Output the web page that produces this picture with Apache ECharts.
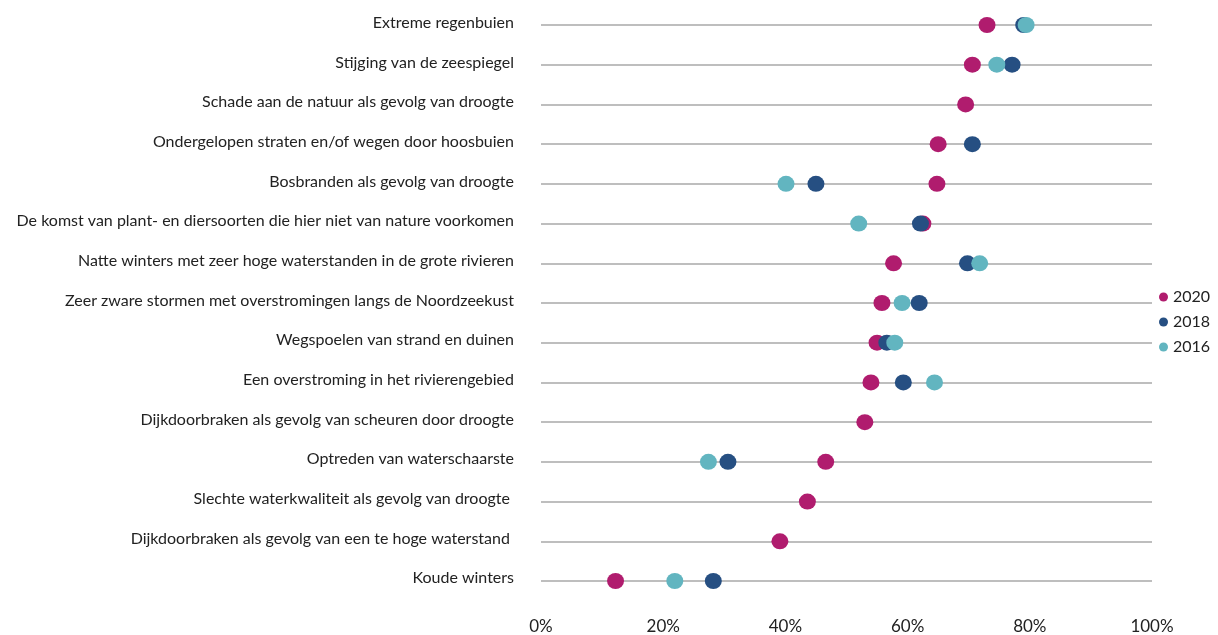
<!DOCTYPE html>
<html>
<head>
<meta charset="utf-8">
<script src="https://cdn.jsdelivr.net/npm/echarts@6/dist/echarts.min.js"></script>
<style>
  html, body { margin: 0; padding: 0; background: #fff; }
  #chart { width: 1218px; height: 635px; }
</style>
</head>
<body>
<div id="chart"></div>
<script>
// Klimaatrisico's: aandeel (%) dat zich zorgen maakt, per jaar
const categories = [
  'Extreme regenbuien',
  'Stijging van de zeespiegel',
  'Schade aan de natuur als gevolg van droogte',
  'Ondergelopen straten en/of wegen door hoosbuien',
  'Bosbranden als gevolg van droogte',
  'De komst van plant- en diersoorten die hier niet van nature voorkomen',
  'Natte winters met zeer hoge waterstanden in de grote rivieren',
  'Zeer zware stormen met overstromingen langs de Noordzeekust',
  'Wegspoelen van strand en duinen',
  'Een overstroming in het rivierengebied',
  'Dijkdoorbraken als gevolg van scheuren door droogte',
  'Optreden van waterschaarste',
  'Slechte waterkwaliteit als gevolg van droogte ',
  'Dijkdoorbraken als gevolg van een te hoge waterstand ',
  'Koude winters'
];
const values2020 = [73, 70.6, 69.5, 65, 64.8, 62.5, 57.7, 55.8, 55, 54, 53, 46.6, 43.6, 39.1, 12.2];
const values2018 = [79, 77.1, null, 70.6, 45, 62.1, 69.8, 61.9, 56.6, 59.3, null, 30.6, null, null, 28.2];
const values2016 = [79.4, 74.6, null, null, 40.1, 52, 71.8, 59.1, 57.9, 64.4, null, 27.4, null, null, 21.9];
const xTicks = [0, 20, 40, 60, 80, 100];

const colors = { '2020': '#B01C6E', '2018': '#264F82', '2016': '#62B5C0' };
const FONT = 'Lato';

function points(values) {
  const out = [];
  values.forEach((v, i) => { if (v !== null) out.push([v, categories[i]]); });
  return out;
}

function dotSeries(name, values) {
  return {
    name: name,
    type: 'scatter',
    xAxisIndex: 0,
    yAxisIndex: 0,
    symbol: 'circle',
    symbolSize: [17, 16],
    itemStyle: { color: colors[name], opacity: 1 },
    emphasis: { disabled: true },
    data: points(values)
  };
}

const chart = echarts.init(document.getElementById('chart'), null, { renderer: 'canvas' });
chart.setOption({
  animation: false,
  textStyle: { fontFamily: FONT },
  legend: {
    orient: 'vertical',
    left: 1154,
    top: 284,
    itemWidth: 9,
    itemHeight: 9,
    itemGap: 9,
    icon: 'circle',
    textStyle: { fontFamily: FONT, fontSize: 16, color: '#222' },
    data: ['2020', '2018', '2016']
  },
  grid: [
    { left: 541, right: 66, top: 25, bottom: 50 },
    // label strip for the category names
    { left: 541, right: 66, top: 23, bottom: 57 }
  ],
  xAxis: [
    {
      gridIndex: 0,
      type: 'value',
      min: xTicks[0],
      max: xTicks[xTicks.length - 1],
      interval: 20,
      axisLine: { show: false },
      axisTick: { show: false },
      splitLine: { show: false },
      axisLabel: {
        formatter: '{value}%',
        margin: 37,
        fontFamily: FONT,
        fontSize: 17,
        color: '#222'
      }
    },
    { gridIndex: 1, type: 'value', show: false, min: 0, max: 100 }
  ],
  yAxis: [
    {
      gridIndex: 0,
      type: 'category',
      inverse: true,
      boundaryGap: false,
      data: categories,
      axisLine: { show: false },
      axisTick: { show: false },
      axisLabel: { show: false },
      splitLine: {
        show: true,
        interval: 0,
        lineStyle: { color: '#A8A8A8', width: 1.5 }
      }
    },
    {
      gridIndex: 1,
      type: 'category',
      inverse: true,
      boundaryGap: false,
      data: categories,
      axisLine: { show: false },
      axisTick: { show: false },
      splitLine: { show: false },
      axisLabel: {
        interval: 0,
        margin: 27,
        fontFamily: FONT,
        fontSize: 16,
        color: '#222'
      }
    }
  ],
  series: [
    dotSeries('2020', values2020),
    dotSeries('2018', values2018),
    dotSeries('2016', values2016)
  ]
});
</script>
</body>
</html>
